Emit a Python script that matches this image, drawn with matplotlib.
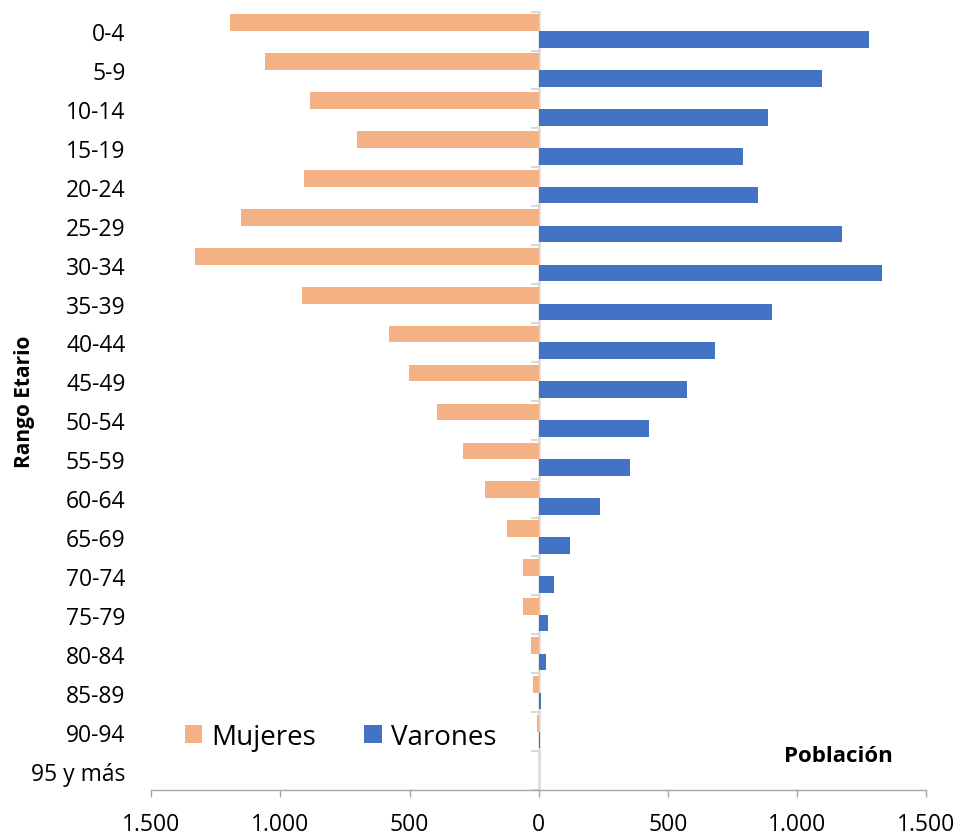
import matplotlib
matplotlib.use("Agg")
import matplotlib.pyplot as plt
import numpy as np

# Age groups, top to bottom
age_groups = ["0-4", "5-9", "10-14", "15-19", "20-24", "25-29", "30-34", "35-39",
              "40-44", "45-49", "50-54", "55-59", "60-64", "65-69", "70-74",
              "75-79", "80-84", "85-89", "90-94", "95 y más"]

# Population by sex
mujeres = [1195, 1060, 885, 703, 909, 1153, 1331, 915, 580, 503,
           395, 293, 208, 124, 61, 62, 30, 22, 5, 0]
varones = [1278, 1096, 889, 791, 848, 1174, 1329, 905, 684, 574,
           427, 352, 237, 120, 61, 35, 27, 8, 4, 0]

# Axis ticks and their labels (thousands with a dot)
x_ticks = [-1500, -1000, -500, 0, 500, 1000, 1500]
x_tick_labels = ["1.500", "1.000", "500", "0", "500", "1.000", "1.500"]

COLOR_M = "#F4B183"
COLOR_V = "#4472C4"
GRID_GRAY = "#D9D9D9"
AXIS_GRAY = "#A6A6A6"
FONT = "Open Sans"

fig = plt.figure(figsize=(9.58, 8.37), dpi=100)
ax = fig.add_axes([0.1579, 0.0550, 0.8087, 0.9299])

y = np.arange(len(age_groups))
h = 0.428
ax.barh(y - h / 2, -np.array(mujeres), height=h, color=COLOR_M, label="Mujeres", zorder=2)
ax.barh(y + h / 2, np.array(varones), height=h, color=COLOR_V, label="Varones", zorder=2)

ax.set_xlim(-1500, 1500)
ax.set_ylim(len(age_groups) - 0.5, -0.5)

# Bottom axis
ax.set_xticks(x_ticks)
ax.set_xticklabels(x_tick_labels, fontsize=16.5, family=FONT)
ax.tick_params(axis="x", direction="out", length=5, width=1, color=AXIS_GRAY, pad=11)
ax.spines["bottom"].set_color(AXIS_GRAY)
ax.spines["bottom"].set_linewidth(1)
for s in ("top", "right", "left"):
    ax.spines[s].set_visible(False)

# Category labels on the far left
ax.set_yticks(y)
ax.set_yticklabels(age_groups, fontsize=16.5, family=FONT)
ax.tick_params(axis="y", length=0, pad=18.5)

ax.set_ylabel("Rango Etario", fontsize=15, family=FONT, fontweight="bold", labelpad=-3)

# Vertical zero axis with category boundary ticks
zero_axis = ax.secondary_yaxis(0.5)
zero_axis.set_alignment("left")
zero_axis.set_yticks(np.arange(len(age_groups) + 1) - 0.5)
zero_axis.tick_params(axis="y", direction="out", length=6, width=1.5, color=GRID_GRAY,
                      labelleft=False, labelright=False)
zero_axis.spines["left"].set_color(GRID_GRAY)
zero_axis.spines["left"].set_linewidth(1.8)
zero_axis.spines["left"].set_zorder(3)

# Legend
fig.legend(loc="center left", bbox_to_anchor=(185 / 958, 1 - 738 / 837), ncol=2,
           frameon=False, prop={"family": FONT, "size": 20}, handlelength=0.62,
           handleheight=0.62, handletextpad=0.32, columnspacing=1.75, borderpad=0,
           borderaxespad=0)

fig.text(838 / 958, 1 - 757 / 837, "Población", ha="center", va="center",
         fontsize=16, fontweight="bold", family=FONT)

fig.savefig("out.png", dpi=100)
